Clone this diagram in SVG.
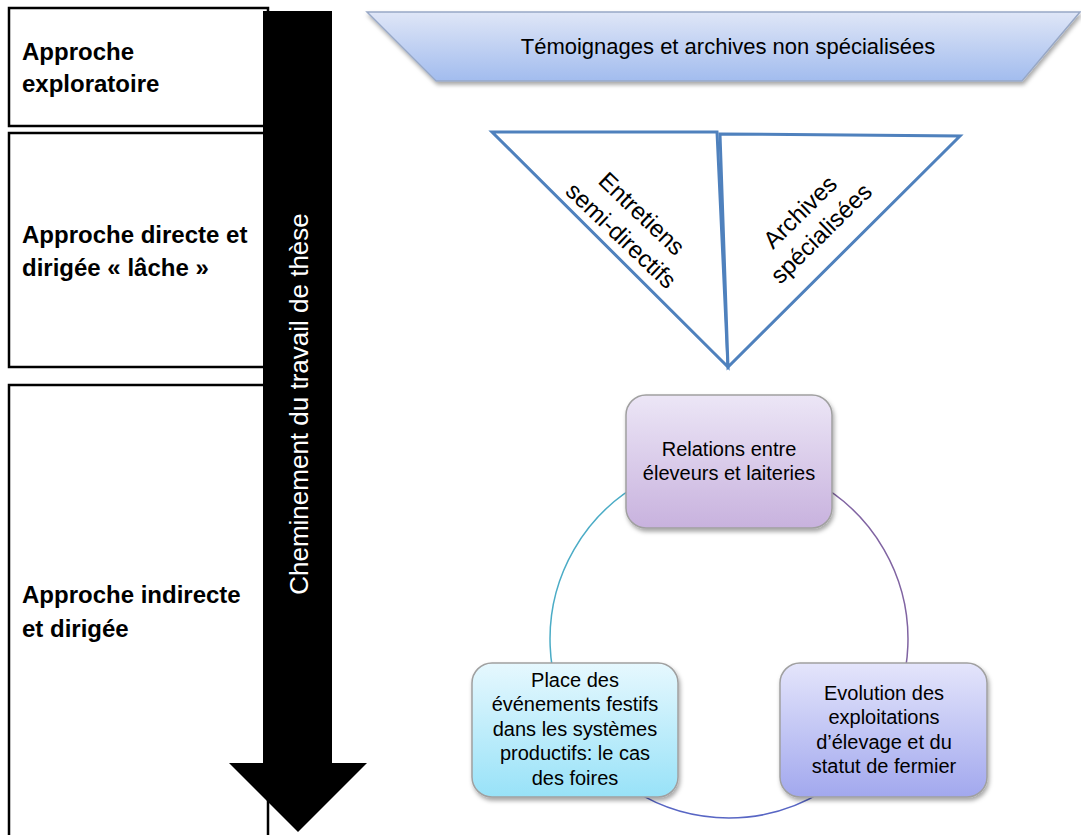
<svg xmlns="http://www.w3.org/2000/svg" width="1081" height="835" viewBox="0 0 1081 835">
<style>
.lbl{font-family:"Liberation Sans",Arial,sans-serif;font-weight:bold;font-size:24px;fill:#000}
.t{font-family:"Liberation Sans",Arial,sans-serif;font-size:20px;fill:#000;text-anchor:middle}
.tri{font-family:"Liberation Sans",Arial,sans-serif;font-size:24px;fill:#000;text-anchor:middle}
.box{fill:#fff;stroke:#000;stroke-width:2.5}
.triangle{fill:#fff;stroke:#4f81bd;stroke-width:3;stroke-linejoin:miter}
.rb{stroke:#a0a0a0;stroke-width:1.5}
.arc{fill:none;stroke-width:1.5}
</style>
<defs>
<linearGradient id="gTrap" x1="0" y1="0" x2="0" y2="1"><stop offset="0" stop-color="#dfe6f7"/><stop offset="1" stop-color="#a2bcee"/></linearGradient>
<linearGradient id="gTop" x1="0" y1="0" x2="0" y2="1"><stop offset="0" stop-color="#ece6f6"/><stop offset="1" stop-color="#c8b2de"/></linearGradient>
<linearGradient id="gLeft" x1="0" y1="0" x2="0" y2="1"><stop offset="0" stop-color="#e6f8fe"/><stop offset="1" stop-color="#98e2f8"/></linearGradient>
<linearGradient id="gRight" x1="0" y1="0" x2="0" y2="1"><stop offset="0" stop-color="#e4e5fb"/><stop offset="1" stop-color="#a2a8ee"/></linearGradient>
<filter id="sh" x="-10%" y="-10%" width="130%" height="140%"><feDropShadow dx="1.5" dy="3" stdDeviation="2" flood-color="#000" flood-opacity="0.35"/></filter>
</defs>

<g id="approche-exploratoire">
<rect class="box" x="9" y="8" width="259" height="118"/>
<text class="lbl" x="22" y="60">Approche</text>
<text class="lbl" x="22" y="92">exploratoire</text>
</g>
<g id="approche-directe">
<rect class="box" x="9" y="133" width="259" height="234"/>
<text class="lbl" x="22" y="243">Approche directe et</text>
<text class="lbl" x="22" y="276">dirigée « lâche »</text>
</g>
<g id="approche-indirecte">
<rect class="box" x="9" y="385" width="259" height="470"/>
<text class="lbl" x="22" y="603">Approche indirecte</text>
<text class="lbl" x="22" y="637">et dirigée</text>
</g>

<g id="cheminement">
<polygon points="263,11 332,11 332,763 367,763 298,832 229,763 263,763" fill="#000"/>
<text x="0" y="0" transform="translate(308,404) rotate(-90)" style="font-family:'Liberation Sans',Arial,sans-serif;font-size:26px;fill:#fff;text-anchor:middle">Cheminement du travail de thèse</text>
</g>

<g id="temoignages">
<polygon points="367,12 1080,12 1022,81 436,81" fill="url(#gTrap)" stroke="#98a8c6" stroke-width="1.5" filter="url(#sh)"/>
<text class="t" x="728" y="54" style="font-size:22px">Témoignages et archives non spécialisées</text>
</g>

<g id="entretiens">
<polygon class="triangle" points="492,132 717,132 728,367"/>
<g transform="translate(632,224) rotate(43.5)">
<text class="tri" x="0" y="-6">Entretiens</text>
<text class="tri" x="0" y="24">semi-directifs</text>
</g>
</g>
<g id="archives-specialisees">
<polygon class="triangle" points="720,134 960,136 728,367"/>
<g transform="translate(810,222) rotate(-44.5)">
<text class="tri" x="0" y="-6">Archives</text>
<text class="tri" x="0" y="24">spécialisées</text>
</g>
</g>

<g id="connectors">
<path class="arc" stroke="#4bacc6" d="M 729 460 A 179 179 0 0 0 574 728.5"/>
<path class="arc" stroke="#8064a2" d="M 729 460 A 179 179 0 0 1 884 728.5"/>
<path class="arc" stroke="#5866c4" d="M 574 728.5 A 179 179 0 0 0 884 728.5"/>
</g>

<g id="relations">
<rect class="rb" x="626" y="395" width="206" height="133" rx="20" fill="url(#gTop)" filter="url(#sh)"/>
<text class="t" x="729" y="456">Relations entre</text>
<text class="t" x="729" y="480">éleveurs et laiteries</text>
</g>
<g id="place-evenements">
<rect class="rb" x="472" y="663" width="206" height="134" rx="20" fill="url(#gLeft)" filter="url(#sh)"/>
<text class="t" x="575" y="687">Place des</text>
<text class="t" x="575" y="711">événements festifs</text>
<text class="t" x="575" y="736">dans les systèmes</text>
<text class="t" x="575" y="760">productifs: le cas</text>
<text class="t" x="575" y="785">des foires</text>
</g>
<g id="evolution">
<rect class="rb" x="780" y="663" width="207" height="134" rx="20" fill="url(#gRight)" filter="url(#sh)"/>
<text class="t" x="884" y="700">Evolution des</text>
<text class="t" x="884" y="724">exploitations</text>
<text class="t" x="884" y="749">d’élevage et du</text>
<text class="t" x="884" y="773">statut de fermier</text>
</g>
</svg>
